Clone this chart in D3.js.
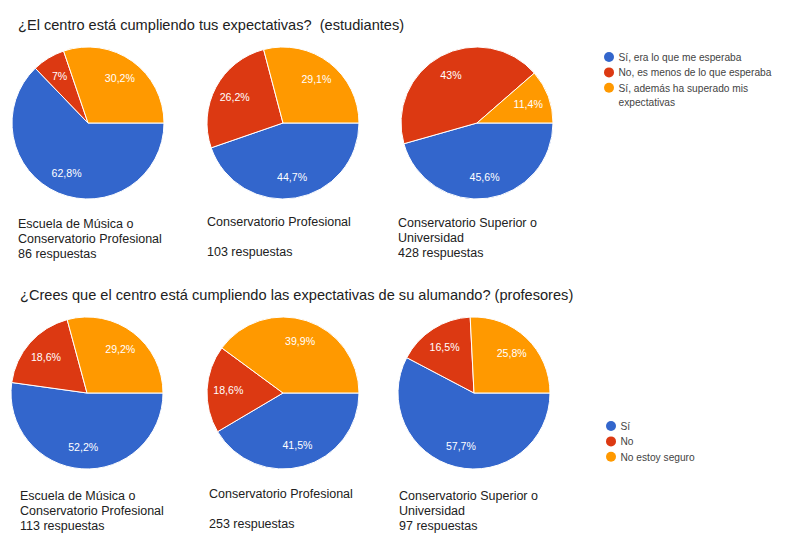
<!DOCTYPE html>
<html><head><meta charset="utf-8">
<script src="https://cdn.jsdelivr.net/npm/d3@7"></script>
<style>body{margin:0;background:#fff}svg{display:block;font-family:"Liberation Sans",Arial,sans-serif}text{white-space:pre}</style>
</head><body><svg id="c" width="800" height="555"></svg>
<script>
const titles = ["¿El centro está cumpliendo tus expectativas?  (estudiantes)",
                "¿Crees que el centro está cumpliendo las expectativas de su alumando? (profesores)"];
const legendStudents = ["Sí, era lo que me esperaba", "No, es menos de lo que esperaba", "Sí, además ha superado mis|expectativas"];
const legendTeachers = ["Sí", "No", "No estoy seguro"];
const colors = ["#3366cc", "#dc3912", "#ff9900"];
const captionsStudents = [["Escuela de Música o", "Conservatorio Profesional", "86 respuestas"],
                          ["Conservatorio Profesional", "", "103 respuestas"],
                          ["Conservatorio Superior o", "Universidad", "428 respuestas"]];
const captionsTeachers = [["Escuela de Música o", "Conservatorio Profesional", "113 respuestas"],
                          ["Conservatorio Profesional", "", "253 respuestas"],
                          ["Conservatorio Superior o", "Universidad", "97 respuestas"]];
const valuesStudents = [[62.8, 7.0, 30.2], [44.7, 26.2, 29.1], [45.6, 43.0, 11.4]];
const valuesTeachers = [[52.2, 18.6, 29.2], [41.5, 18.6, 39.9], [57.7, 16.5, 25.8]];
const labelsStudents = [["62,8%", "7%", "30,2%"], ["44,7%", "26,2%", "29,1%"], ["45,6%", "43%", "11,4%"]];
const labelsTeachers = [["52,2%", "18,6%", "29,2%"], ["41,5%", "18,6%", "39,9%"], ["57,7%", "16,5%", "25,8%"]];

const svg = d3.select("#c");
const R = 76;
const pie = d3.pie().sort(null).startAngle(Math.PI/2).endAngle(Math.PI/2 + 2*Math.PI);
const arc = d3.arc().innerRadius(0).outerRadius(R);
const labelArc = d3.arc().innerRadius(R*0.72).outerRadius(R*0.72);

const rows = [
  {title: titles[0], tx: 18, ty: 30, cy: 123, cx: [88, 283, 477], capX: [18, 207, 398], capY: [228, 226, 227],
   values: valuesStudents, labels: labelsStudents, captions: captionsStudents,
   legend: legendStudents, lx: 609, ly: 57},
  {title: titles[1], tx: 20, ty: 300, cy: 393, cx: [87, 283, 474], capX: [20, 209, 399], capY: [500, 498, 500],
   values: valuesTeachers, labels: labelsTeachers, captions: captionsTeachers,
   legend: legendTeachers, lx: 611, ly: 426}
];

rows.forEach(row => {
  svg.append("text").attr("x", row.tx).attr("y", row.ty).attr("font-size", 14.6).attr("fill", "#212121").text(row.title);
  row.values.forEach((vals, i) => {
    const g = svg.append("g").attr("transform", `translate(${row.cx[i]},${row.cy})`);
    const arcs = pie(vals);
    g.selectAll("path").data(arcs).join("path").attr("d", arc)
      .attr("fill", (d, j) => colors[j]).attr("stroke", "#fff").attr("stroke-width", 1);
    g.selectAll("text").data(arcs).join("text")
      .attr("transform", d => `translate(${labelArc.centroid(d)})`)
      .attr("text-anchor", "middle").attr("dy", "0.35em")
      .attr("font-size", 10.6).attr("fill", "#fff")
      .text((d, j) => row.labels[i][j]);
    const cap = svg.append("text").attr("font-size", 12.5).attr("fill", "#212121");
    row.captions[i].forEach((line, k) => {
      cap.append("tspan").attr("x", row.capX[i]).attr("y", row.capY[i] + k*15).text(line);
    });
  });
  let yy = row.ly;
  row.legend.forEach((item, j) => {
    svg.append("circle").attr("cx", row.lx).attr("cy", yy).attr("r", 5).attr("fill", colors[j]);
    const parts = item.split("|");
    const t = svg.append("text").attr("font-size", 10.2).attr("fill", "#444");
    parts.forEach((p, k) => t.append("tspan").attr("x", row.lx + 9.5).attr("y", yy + 3.7 + k*14.3).text(p));
    yy += 15.4;
  });
});
</script></body></html>
